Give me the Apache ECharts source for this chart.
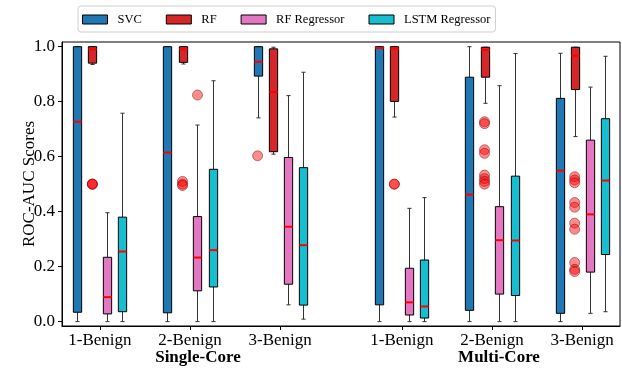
<!DOCTYPE html>
<html><head><meta charset="utf-8">
<script src="https://cdn.jsdelivr.net/npm/echarts@6/dist/echarts.min.js"></script>
<style>html,body{margin:0;padding:0;background:#fff}#c{width:622px;height:368px}</style>
</head><body><div id="c"></div>
<script>
const categories = ['1-Benign','2-Benign','3-Benign','1-Benign','2-Benign','3-Benign'];
const groupNames = ['Single-Core','Multi-Core'];
const methods = ['SVC','RF','RF Regressor','LSTM Regressor'];
const yTicks = [0, 0.2, 0.4, 0.6, 0.8, 1.0];

// [min, q1, median, q3, max] per category
const svcStats = [
  [0.0, 0.034, 0.727, 1.0, 1.0],
  [0.0, 0.032, 0.615, 1.0, 1.0],
  [0.741, 0.893, 0.945, 1.0, 1.0],
  [0.0, 0.061, 0.995, 1.0, 1.0],
  [0.0, 0.041, 0.462, 0.889, 1.0],
  [0.0, 0.030, 0.549, 0.812, 0.976]];
const rfStats = [
  [0.935, 0.940, 0.990, 1.0, 1.0],
  [0.937, 0.943, 0.990, 1.0, 1.0],
  [0.609, 0.618, 0.835, 0.992, 0.998],
  [0.744, 0.801, 0.993, 1.0, 1.0],
  [0.794, 0.889, 0.988, 0.998, 0.998],
  [0.673, 0.844, 0.967, 0.998, 0.998]];
const rfRegStats = [
  [0.0, 0.028, 0.089, 0.234, 0.396],
  [0.0, 0.112, 0.233, 0.382, 0.715],
  [0.061, 0.136, 0.345, 0.597, 0.822],
  [0.0, 0.024, 0.070, 0.194, 0.412],
  [0.0, 0.100, 0.296, 0.418, 0.858],
  [0.030, 0.180, 0.390, 0.660, 0.853]];
const lstmStats = [
  [0.0, 0.036, 0.255, 0.380, 0.758],
  [0.0, 0.126, 0.260, 0.554, 0.876],
  [0.009, 0.060, 0.278, 0.560, 0.907],
  [0.0, 0.013, 0.055, 0.224, 0.451],
  [0.0, 0.095, 0.295, 0.529, 0.975],
  [0.036, 0.244, 0.513, 0.738, 0.965]];

const svcOutliers = [[], [], [0.603], [], [], []];
const rfOutliers = [
  [0.5, 0.5, 0.5],
  [0.51, 0.5, 0.495],
  [],
  [0.5, 0.5],
  [0.727, 0.72, 0.625, 0.612, 0.533, 0.52, 0.51, 0.5],
  [0.527, 0.515, 0.505, 0.433, 0.416, 0.358, 0.336, 0.215, 0.19, 0.182]];
const rfRegOutliers = [[], [0.824], [], [], [], []];
const lstmOutliers = [[], [], [], [], [], []];

const FONT = 'Liberation Serif';
const colors = ['#1f77b4', '#d62728', '#e377c2', '#17becf'];
const allStats = [svcStats, rfStats, rfRegStats, lstmStats];
const allOutliers = [svcOutliers, rfOutliers, rfRegOutliers, lstmOutliers];
const offsets = [-0.25, -0.083, 0.083, 0.25];
const BOXW = 0.092;
const groupPos = categories.map((c, i) => i + (i >= 3 ? 0.35 : 0));

function renderBox(params, api) {
  const x = api.value(0);
  const mn = api.coord([x, api.value(1)]);
  const q1 = api.coord([x, api.value(2)]);
  const md = api.coord([x, api.value(3)]);
  const q3 = api.coord([x, api.value(4)]);
  const mx = api.coord([x, api.value(5)]);
  const w = api.size([BOXW, 0])[0];
  const cx = Math.round(mn[0]) + 0.5;
  const cap = w / 2;
  const color = api.visual('color');
  const lineStyle = { stroke: '#333', lineWidth: 1 };
  return {
    type: 'group',
    children: [
      { type: 'line', shape: { x1: cx, y1: mn[1], x2: cx, y2: q1[1] }, style: lineStyle },
      { type: 'line', shape: { x1: cx, y1: q3[1], x2: cx, y2: mx[1] }, style: lineStyle },
      { type: 'line', shape: { x1: cx - cap / 2, y1: mn[1], x2: cx + cap / 2, y2: mn[1] }, style: lineStyle },
      { type: 'line', shape: { x1: cx - cap / 2, y1: mx[1], x2: cx + cap / 2, y2: mx[1] }, style: lineStyle },
      { type: 'rect', shape: { x: cx - w / 2, y: q3[1], width: w, height: q1[1] - q3[1] },
        style: { fill: color, stroke: '#000', lineWidth: 1 } },
      { type: 'line', shape: { x1: cx - w / 2, y1: md[1], x2: cx + w / 2, y2: md[1] },
        style: { stroke: '#ff0000', lineWidth: 2 } }
    ]
  };
}

const series = [];
methods.forEach((m, k) => {
  series.push({
    name: m, type: 'custom', renderItem: renderBox, z: 2,
    itemStyle: { color: colors[k] },
    encode: { x: 0, y: [1, 2, 3, 4, 5] },
    data: allStats[k].map((s, i) => [groupPos[i] + offsets[k]].concat(s))
  });
});
methods.forEach((m, k) => {
  const pts = [];
  allOutliers[k].forEach((arr, i) => arr.forEach(v => pts.push([groupPos[i] + offsets[k], v])));
  series.push({
    name: m, type: 'scatter', symbolSize: 10, z: 3,
    itemStyle: { color: 'rgba(255,0,0,0.45)', borderColor: 'rgba(110,0,0,0.45)', borderWidth: 1, opacity: 1 },
    data: pts
  });
});

const chart = echarts.init(document.getElementById('c'), null, { renderer: 'canvas' });
chart.setOption({
  animation: false,
  backgroundColor: '#fff',
  grid: { left: 62, right: 2, top: 42, bottom: 42, show: true, borderColor: '#000', borderWidth: 1, backgroundColor: 'transparent' },
  legend: {
    left: 78, top: 6, padding: [7, 5, 6, 4], itemGap: 24,
    itemWidth: 25, itemHeight: 9,
    backgroundColor: '#fff', borderColor: '#cfcfcf', borderWidth: 1, borderRadius: 3,
    textStyle: { fontFamily: FONT, fontSize: 12.5, color: '#000', padding: [0, 0, 0, 5] },
    data: methods.map((m, k) => ({ name: m, icon: 'rect', itemStyle: { color: colors[k], borderColor: '#000', borderWidth: 1 } }))
  },
  xAxis: {
    type: 'value', min: -0.42, max: 5.77,
    splitLine: { show: false },
    axisLine: { show: true, onZero: false, lineStyle: { color: '#000' } },
    axisTick: { show: true, length: 4, customValues: groupPos, lineStyle: { color: '#000' } },
    axisLabel: {
      customValues: groupPos, margin: 6,
      fontFamily: FONT, fontSize: 17, color: '#000',
      formatter: v => { const i = groupPos.findIndex(p => Math.abs(p - v) < 1e-6); return i >= 0 ? categories[i] : ''; }
    }
  },
  yAxis: {
    type: 'value', min: -0.016, max: 1.017,
    name: 'ROC-AUC Scores', nameLocation: 'middle', nameGap: 24, nameMoveOverlap: false,
    nameTextStyle: { fontFamily: FONT, fontSize: 17, color: '#000' },
    splitLine: { show: false },
    axisLine: { show: true, onZero: false, lineStyle: { color: '#000' } },
    axisTick: { show: true, length: 4, customValues: yTicks, lineStyle: { color: '#000' } },
    axisLabel: { customValues: yTicks, margin: 7, fontFamily: FONT, fontSize: 17, color: '#000', formatter: v => v.toFixed(1) }
  },
  graphic: [
    { type: 'text', x: 198, y: 358, style: { text: groupNames[0], font: 'bold 17px "Liberation Serif"', fill: '#000', textAlign: 'center', textVerticalAlign: 'middle' } },
    { type: 'text', x: 499, y: 358, style: { text: groupNames[1], font: 'bold 17px "Liberation Serif"', fill: '#000', textAlign: 'center', textVerticalAlign: 'middle' } }
  ],
  series: series
});
</script></body></html>
